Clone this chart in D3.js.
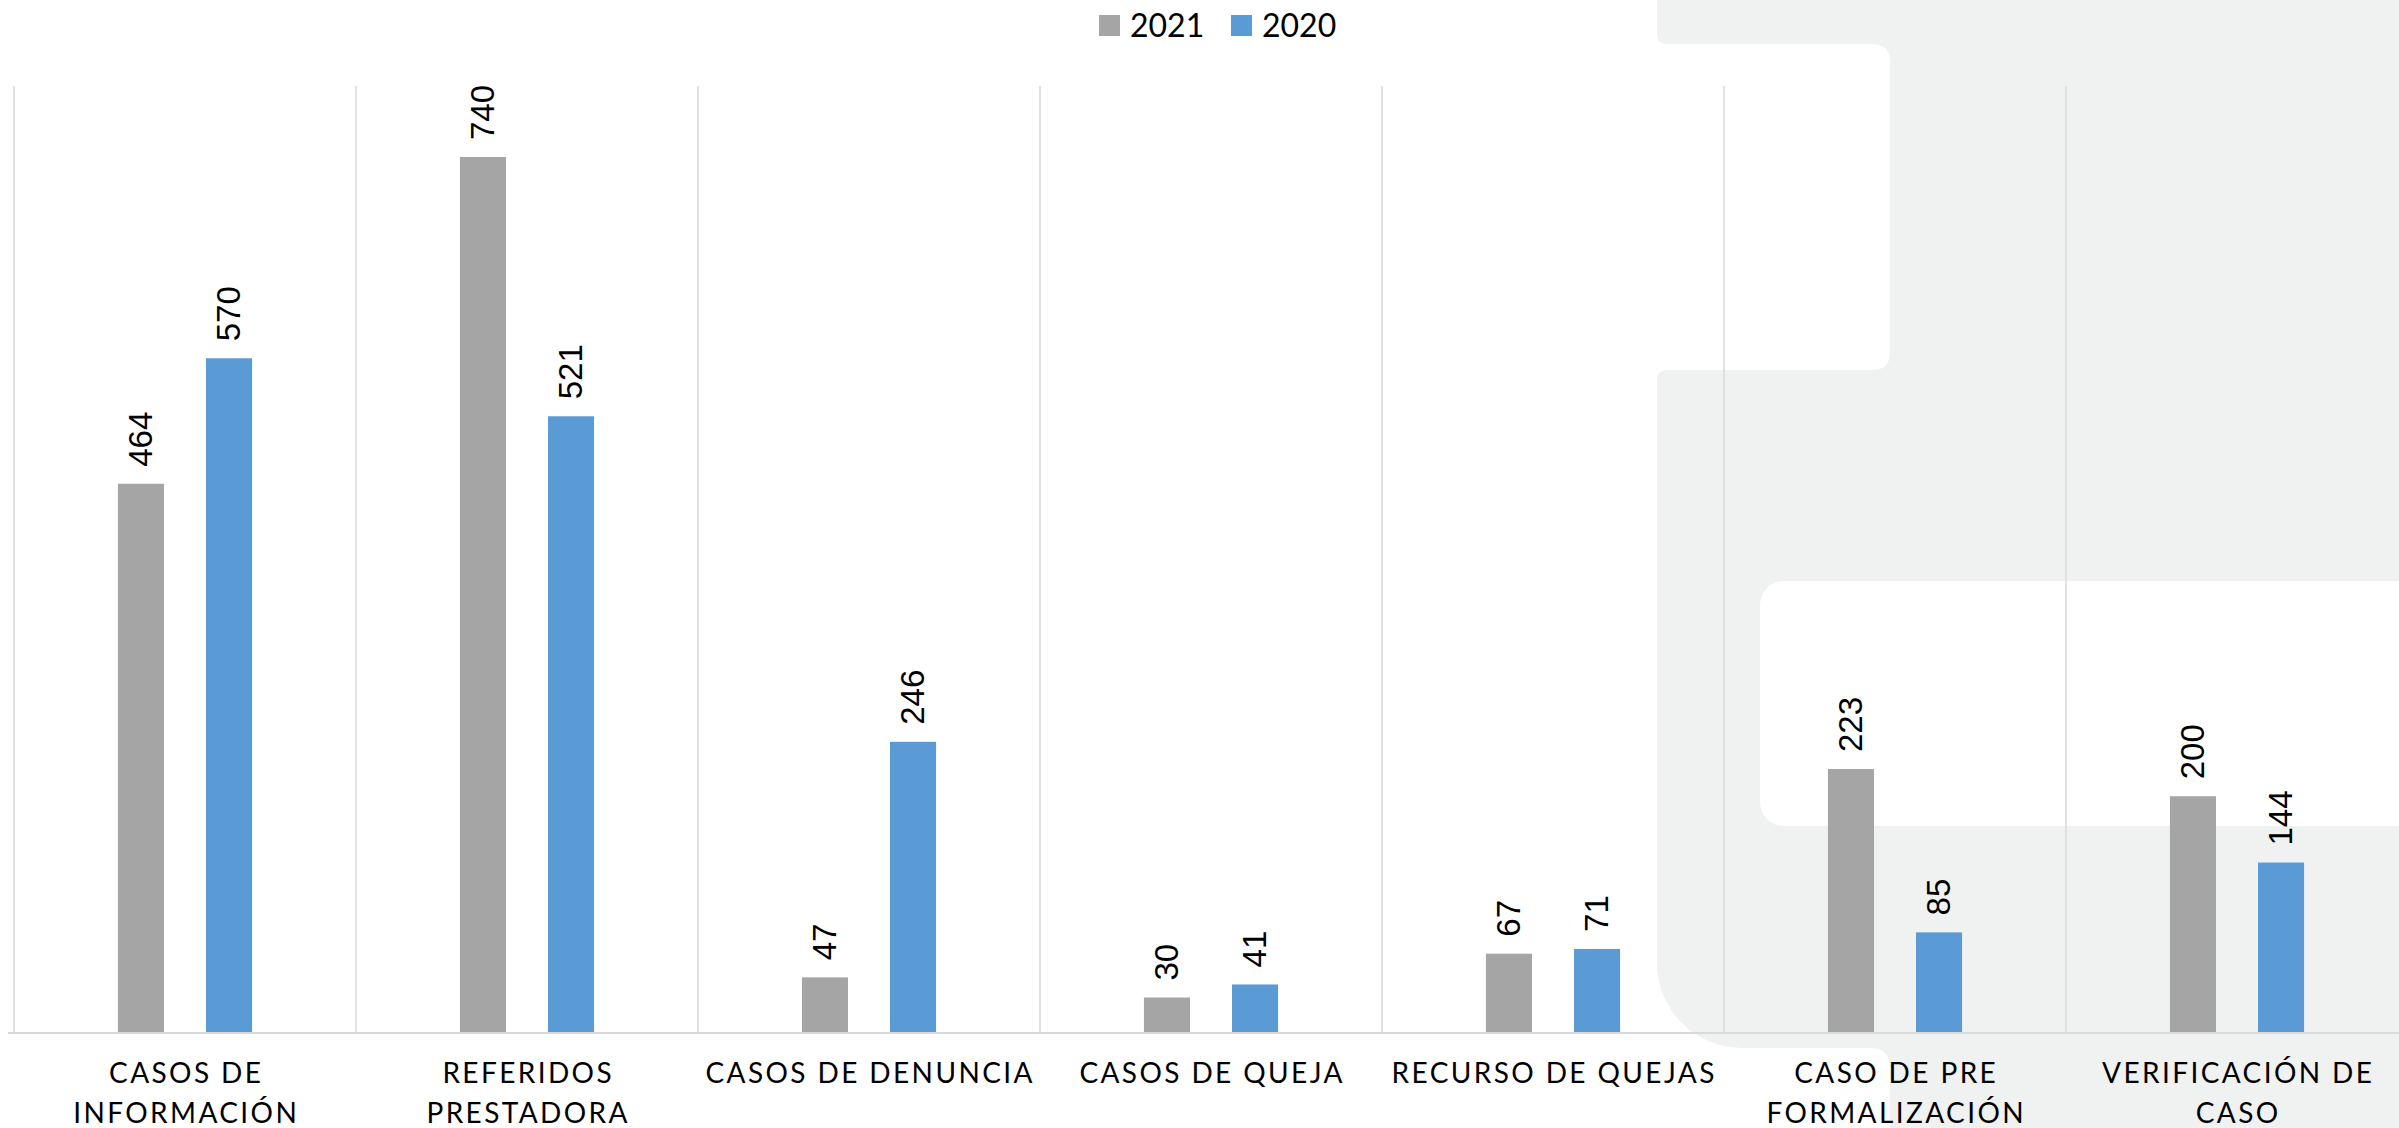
<!DOCTYPE html>
<html>
<head>
<meta charset="utf-8">
<script src="https://cdn.jsdelivr.net/npm/d3@7"></script>
<style>
  html, body { margin: 0; padding: 0; background: #ffffff; }
  svg { display: block; }
</style>
</head>
<body>
<svg id="chart" width="2399" height="1128"></svg>
<script>
// ---- data ----
const categories = [
  "CASOS DE\nINFORMACIÓN",
  "REFERIDOS\nPRESTADORA",
  "CASOS DE DENUNCIA",
  "CASOS DE QUEJA",
  "RECURSO DE QUEJAS",
  "CASO DE PRE\nFORMALIZACIÓN",
  "VERIFICACIÓN DE\nCASO"
];
const seriesNames = ["2021", "2020"];
const values2021 = [464, 740, 47, 30, 67, 223, 200];
const values2020 = [570, 521, 246, 41, 71, 85, 144];
const seriesColors = ["#a5a5a5", "#5b9bd5"];

const W = 2399, H = 1128;
const svg = d3.select("#chart");

// ---- decorative background watermark ----
const bg = svg.append("g");
bg.append("path")
  .attr("d", "M1657,0 H2399 V1128 H1890 V1068 Q1890,1048 1870,1048 H1742 A85,85 0 0 1 1657,963 " +
             "V380 Q1657,370 1667,370 H1872 Q1890,370 1890,352 V62 Q1890,44 1872,44 H1667 Q1657,44 1657,34 Z")
  .attr("fill", "#f0f2f1");
bg.append("rect")
  .attr("x", 1760).attr("y", 581).attr("width", 720).attr("height", 245)
  .attr("rx", 24).attr("ry", 24)
  .attr("fill", "#ffffff");

// ---- scales ----
const x = d3.scaleBand().domain(categories).range([14, 14 + 7 * 342]).padding(0);
const xs = d3.scaleBand().domain(seriesNames).range([0, x.bandwidth()])
  .paddingInner(0.477).paddingOuter(1.18);
const y = d3.scaleLinear().domain([0, 800]).range([1033, 86]);

// ---- gridlines (category separators) ----
const grid = svg.append("g");
const boundaries = categories.map(c => x(c)).concat([x.range()[1]]);
grid.selectAll("line").data(boundaries).join("line")
  .attr("x1", d => d).attr("x2", d => d)
  .attr("y1", y(800)).attr("y2", y(0))
  .attr("stroke", "#d9d9d9").attr("stroke-width", 1.5);

// ---- bars ----
const rows = categories.map((c, i) => ({ cat: c, vals: [values2021[i], values2020[i]] }));
const groups = svg.append("g").selectAll("g").data(rows).join("g")
  .attr("transform", d => `translate(${x(d.cat)},0)`);

groups.selectAll("rect").data(d => d.vals.map((v, j) => ({ s: seriesNames[j], v, j })))
  .join("rect")
  .attr("x", d => xs(d.s))
  .attr("width", xs.bandwidth())
  .attr("y", d => y(d.v))
  .attr("height", d => y(0) - y(d.v))
  .attr("fill", d => seriesColors[d.j]);

// data labels
groups.selectAll("text").data(d => d.vals.map((v, j) => ({ s: seriesNames[j], v, j })))
  .join("text")
  .attr("transform", d => `translate(${xs(d.s) + xs.bandwidth() / 2 + 11},${y(d.v) - 17}) rotate(-90)`)
  .attr("text-anchor", "start")
  .attr("font-family", "'Liberation Sans', Arial, sans-serif")
  .attr("font-size", 33)
  .attr("fill", "#000")
  .text(d => d.v);

// ---- x axis baseline ----
svg.append("line")
  .attr("x1", 8).attr("x2", W)
  .attr("y1", y(0)).attr("y2", y(0))
  .attr("stroke", "#d9d9d9").attr("stroke-width", 2);

// ---- category labels ----
const lbl = svg.append("g")
  .attr("font-family", "Lato, 'Open Sans', sans-serif")
  .attr("font-size", 28)
  .attr("fill", "#000")
  .attr("text-anchor", "middle");
categories.forEach(c => {
  const lines = c.split("\n");
  const t = lbl.append("text")
    .attr("x", x(c) + x.bandwidth() / 2)
    .attr("y", 1083)
    .style("letter-spacing", "2.4px");
  lines.forEach((ln, k) => {
    t.append("tspan")
      .attr("x", x(c) + x.bandwidth() / 2 + 1.2)
      .attr("dy", k === 0 ? 0 : 40)
      .text(ln);
  });
});

// ---- legend ----
const legend = svg.append("g")
  .attr("font-family", "Lato, 'Open Sans', sans-serif")
  .attr("font-size", 32);
const legendX = [1099, 1231];
seriesNames.forEach((s, i) => {
  legend.append("rect")
    .attr("x", legendX[i]).attr("y", 15).attr("width", 21).attr("height", 21)
    .attr("fill", seriesColors[i]);
  legend.append("text")
    .attr("x", legendX[i] + 31).attr("y", 37)
    .attr("fill", "#000")
    .text(s);
});
</script>
</body>
</html>
